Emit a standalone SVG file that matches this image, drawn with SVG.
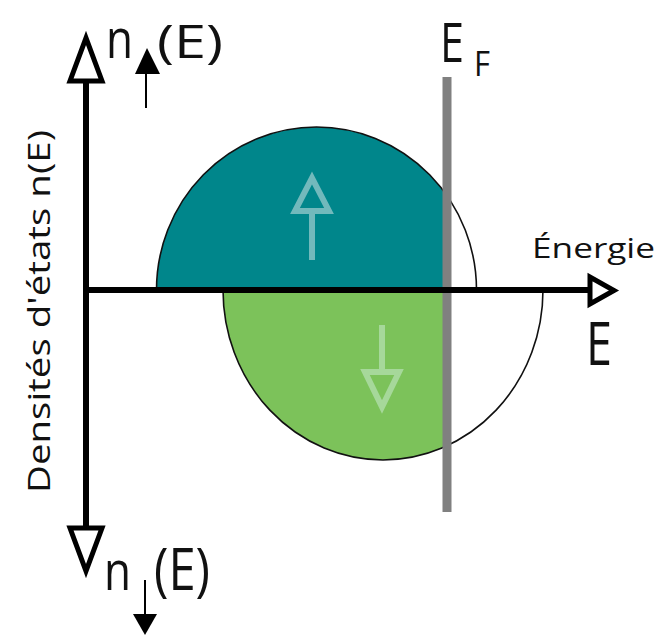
<svg xmlns="http://www.w3.org/2000/svg" width="660" height="635" viewBox="0 0 660 635">
<defs>
<style>
.t{font-family:"Open Sans","Noto Sans","Liberation Sans",sans-serif;fill:#111}
.ax{stroke:#000;stroke-width:6;fill:none}
.head{stroke:#000;stroke-width:5;fill:#fff;stroke-linejoin:miter}
.out{fill:none;stroke:#111;stroke-width:1.6}
</style>
<clipPath id="left"><rect x="0" y="0" width="447" height="635"/></clipPath>
</defs>
<rect width="660" height="635" fill="#fff"/>
<g id="up-band">
<path d="M156.5,290 A160,163 0 0 1 476.5,290 Z" fill="#00868B" clip-path="url(#left)"/>
<path d="M156.5,290 A160,163 0 0 1 476.5,290" class="out" stroke-width="1.4"/>
<g stroke="#72B9BC" fill="none" stroke-width="6">
<line x1="312" y1="213" x2="312" y2="260"/>
<polygon points="295,211 329,211 312,178" stroke-linejoin="miter"/>
</g>
</g>
<g id="down-band">
<path d="M223,290 A160,170 0 0 0 543,290 Z" fill="#7CC25A" clip-path="url(#left)"/>
<path d="M223,290 A160,170 0 0 0 543,290" class="out" stroke-width="2"/>
<g stroke="#A6D89A" fill="none" stroke-width="6">
<line x1="382" y1="325" x2="382" y2="372"/>
<polygon points="365,372 399,372 382,407" stroke-linejoin="miter"/>
</g>
</g>
<g id="fermi">
<line x1="447" y1="77" x2="447" y2="512" stroke="#808080" stroke-width="9"/>
<text class="t" x="440" y="62" font-size="55" textLength="24" lengthAdjust="spacingAndGlyphs">E</text>
<text class="t" x="474" y="76" font-size="34" textLength="16" lengthAdjust="spacingAndGlyphs">F</text>
</g>
<g id="connectors">
<line class="ax" x1="86" y1="83" x2="86" y2="526"/>
<line class="ax" x1="83" y1="290" x2="590" y2="290"/>
<polygon class="head" points="70,81 102,81 86,38"/>
<polygon class="head" points="70,528 102,528 86,571"/>
<polygon class="head" points="590,277 590,304 614,290.5"/>
<line x1="146" y1="72" x2="146" y2="108" stroke="#000" stroke-width="2"/>
<polygon points="135,74 160,74 147,48" fill="#000"/>
<line x1="145" y1="580" x2="145" y2="616" stroke="#000" stroke-width="2"/>
<polygon points="133,614 157,614 145,635" fill="#000"/>
</g>
<g id="labels">
<text class="t" x="106" y="58" font-size="54" textLength="27" lengthAdjust="spacingAndGlyphs">n</text>
<text class="t" x="157" y="58" font-size="46" textLength="66" lengthAdjust="spacingAndGlyphs">(E)</text>
<text class="t" x="104" y="590" font-size="54" textLength="27" lengthAdjust="spacingAndGlyphs">n</text>
<text class="t" x="154" y="590" font-size="58" textLength="56" lengthAdjust="spacingAndGlyphs">(E)</text>
<text class="t" x="586" y="365" font-size="60" textLength="26" lengthAdjust="spacingAndGlyphs">E</text>
<text class="t" x="532" y="258" font-size="28" textLength="123" lengthAdjust="spacingAndGlyphs">Énergie</text>
<text class="t" transform="translate(50,493) rotate(-90)" x="0" y="0" font-size="31" textLength="363" lengthAdjust="spacingAndGlyphs">Densités d'états n(E)</text>
</g>
</svg>
